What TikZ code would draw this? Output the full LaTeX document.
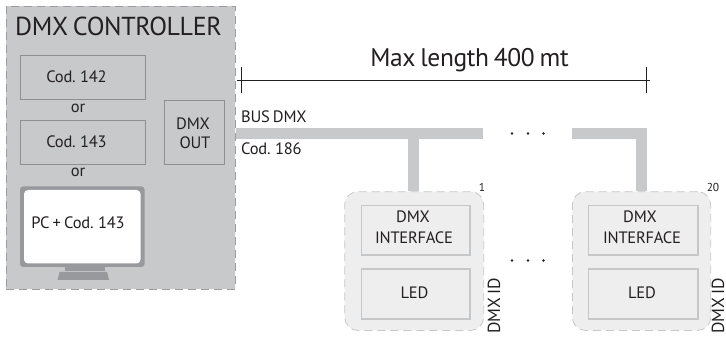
\documentclass[tikz,border=0pt]{standalone}
\usepackage{fontspec}
\setmainfont[LetterSpace=-1.5,WordSpace=0.75]{PT Sans}
\definecolor{ctrl}{HTML}{C8C9CB}
\definecolor{dashc}{HTML}{9C9DA0}
\definecolor{boxline}{HTML}{8E8F92}
\definecolor{unitfill}{HTML}{EEEEEF}
\definecolor{unitline}{HTML}{C6C7C9}
\definecolor{txt}{HTML}{231F20}
\definecolor{mon}{HTML}{98999C}
\tikzset{
  ctrlbox/.style={draw=dashc,dash pattern=on 8pt off 5pt,line width=0.8pt,fill=ctrl},
  codebox/.style={draw=boxline,line width=0.8pt},
  unitbox/.style={draw=unitline,dash pattern=on 8pt off 5pt,line width=0.8pt,fill=unitfill,rounded corners=13pt},
  innerbox/.style={draw=unitline,line width=1.6pt},
  bus/.style={draw=ctrl,line width=11pt},
  dim/.style={draw=txt,line width=0.7pt},
  lab/.style={text=txt,inner sep=0pt,font=\fontsize{16.5}{20.5}\selectfont},
  idlab/.style={text=txt,inner sep=0pt,rotate=90,font=\fontsize{17.5}{18}\selectfont},
  big/.style={lab,font=\fontsize{26}{26}\selectfont},
  mid/.style={lab,font=\fontsize{25.5}{26}\selectfont},
  tiny/.style={lab,font=\fontsize{11.5}{11.5}\selectfont},
  dot/.style={circle,fill=txt,inner sep=0pt,minimum size=2.6pt},
}
\begin{document}
\begin{tikzpicture}[x=1pt,y=-1pt]
\useasboundingbox (0,0) rectangle (726,339);
\coordinate (busL) at (236,133.5);
\coordinate (busE) at (483,133.5);
\coordinate (busR) at (572,133.5);
\coordinate (cornerR) at (641.5,133.5);
\coordinate (drop1) at (413.5,133.5);
% controller
\node[ctrlbox,minimum width=229pt,minimum height=283pt,inner sep=0pt,anchor=north west] (ctrl) at (6,6) {};
\node[big] (title) at (118.5,26) {DMX CONTROLLER};
\node[codebox,minimum width=124.5pt,minimum height=43.5pt,inner sep=0pt,anchor=north west] (c142) at (20,55.5) {};
\node[lab] at (76.5,77) {Cod. 142};
\node[lab] at (78,108) {or};
\node[codebox,minimum width=124.5pt,minimum height=44pt,inner sep=0pt,anchor=north west] (c143) at (20,120.5) {};
\node[lab] at (76.5,141.5) {Cod. 143};
\node[lab] at (78,172) {or};
\node[codebox,minimum width=60pt,minimum height=64pt,inner sep=0pt,anchor=north west] (out) at (164,100.5) {};
\node[lab] at (193,124) {DMX};
\node[lab] at (195,143) {OUT};
% monitor
\fill[mon,rounded corners=3pt] (20,186.5) rectangle (144.5,267);
\fill[white,rounded corners=4pt] (24,190) rectangle (140.5,263.5);
\fill[mon] (64.5,267.5) rectangle (105,271);
\fill[mon] (59.5,272) -- (107,272) -- (109,280) -- (57.5,280) -- cycle;
\node[lab] (pc) at (78,223) {PC + Cod. 143};
% units
\node[unitbox,minimum width=139pt,minimum height=138.7pt,inner sep=0pt,anchor=north west] (u1) at (344.3,191.3) {};
\node[innerbox,minimum width=108.6pt,minimum height=49.3pt,inner sep=0pt,anchor=north west] (i1) at (360.7,204.7) {};
\node[lab] at (413,217) {DMX};
\node[lab] at (414,238) {INTERFACE};
\node[innerbox,minimum width=108.6pt,minimum height=50pt,inner sep=0pt,anchor=north west] (l1) at (360.7,268) {};
\node[lab] at (414.5,293) {LED};
\node[tiny] at (482,187) {1};
\node[idlab] at (494,306) {DMX ID};
\node[unitbox,minimum width=138.3pt,minimum height=138.7pt,inner sep=0pt,anchor=north west] (u2) at (572,191.3) {};
\node[innerbox,minimum width=109.6pt,minimum height=49.3pt,inner sep=0pt,anchor=north west] (i2) at (587.7,204.7) {};
\node[lab] at (640,217) {DMX};
\node[lab] at (642,238) {INTERFACE};
\node[innerbox,minimum width=109.6pt,minimum height=50pt,inner sep=0pt,anchor=north west] (l2) at (587.7,268) {};
\node[lab] at (642,293) {LED};
\node[tiny] at (713,187) {20};
\node[idlab] at (718,306) {DMX ID};
% bus
\draw[bus] (busL) -- (busE);
\draw[bus] (drop1) -- (drop1 |- u1.north);
\draw[bus] (busR) -- (cornerR) -- (cornerR |- u2.north);
\node[lab,anchor=west] at (241,117) {BUS DMX};
\node[lab,anchor=west] at (241,149) {Cod. 186};
% dimension
\coordinate (dimL) at (237,80.3);
\coordinate (dimR) at (650,80.3);
\coordinate (t1a) at (241.5,67);
\coordinate (t1b) at (241.5,93);
\coordinate (t2a) at (646.3,67);
\coordinate (t2b) at (646.3,93.5);
\draw[dim] (dimL) -- (dimR);
\draw[dim] (t1a) -- (t1b);
\draw[dim] (t2a) -- (t2b);
\node[mid] at (469.5,60) {Max length 400 mt};
% dots
\foreach \x/\n in {512/a,528/b,543.5/c}{
  \node[dot] (top\n) at (\x,133.5) {};
  \node[dot] (low\n) at (\x,260.5) {};
}
\end{tikzpicture}
\end{document}
